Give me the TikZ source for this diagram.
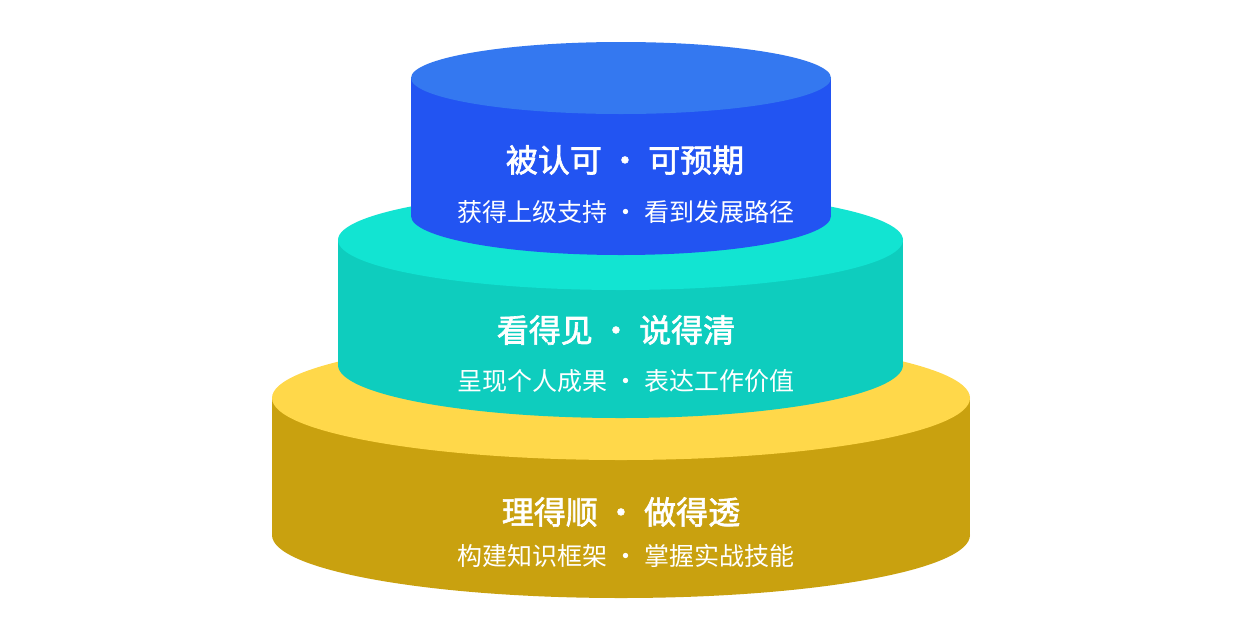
\documentclass[tikz,border=0pt]{standalone}
\usepackage{fontspec}
\newfontfamily\cjk{Noto Sans CJK SC}
\newfontfamily\cjkb{Noto Sans CJK SC}[FakeBold=2]
\definecolor{btop}{HTML}{3478F0}
\definecolor{bside}{HTML}{2254F2}
\definecolor{ttop}{HTML}{12E4D2}
\definecolor{tside}{HTML}{0ECDBE}
\definecolor{ytop}{HTML}{FFD84A}
\definecolor{yside}{HTML}{C9A10F}
\tikzset{title/.style={text=white,font=\cjkb\fontsize{32}{36}\selectfont},
 sub/.style={text=white,font=\cjk\fontsize{25}{30}\selectfont}}
\newcommand{\cyl}[7]{% cx rx ytop ry1 ybot ry2 color-prefix
 \fill[#7side] (#1,#5) ellipse[x radius=#2,y radius=#6];
 \fill[#7side] (#1-#2,#3) rectangle (#1+#2,#5);
 \fill[#7top] (#1,#3) ellipse[x radius=#2,y radius=#4];}
\begin{document}
\begin{tikzpicture}[x=1pt,y=-1pt]
\useasboundingbox (0,0) rectangle (1242,638);
\fill[white] (0,0) rectangle (1242,638);
\cyl{621}{349}{398}{62}{535}{63}{y}
\cyl{620.5}{282.5}{240}{50}{365}{53}{t}
\cyl{621}{210}{78}{36}{216}{39}{b}
\node[title] (t1) at (625,160) {被认可 · 可预期};
\node[sub] (s1) at (626,212) {获得上级支持 · 看到发展路径};
\node[title] (t2) at (616,330) {看得见 · 说得清};
\node[sub] (s2) at (626,381) {呈现个人成果 · 表达工作价值};
\node[title] (t3) at (621,512) {理得顺 · 做得透};
\node[sub] (s3) at (626,556) {构建知识框架 · 掌握实战技能};
\end{tikzpicture}
\end{document}
